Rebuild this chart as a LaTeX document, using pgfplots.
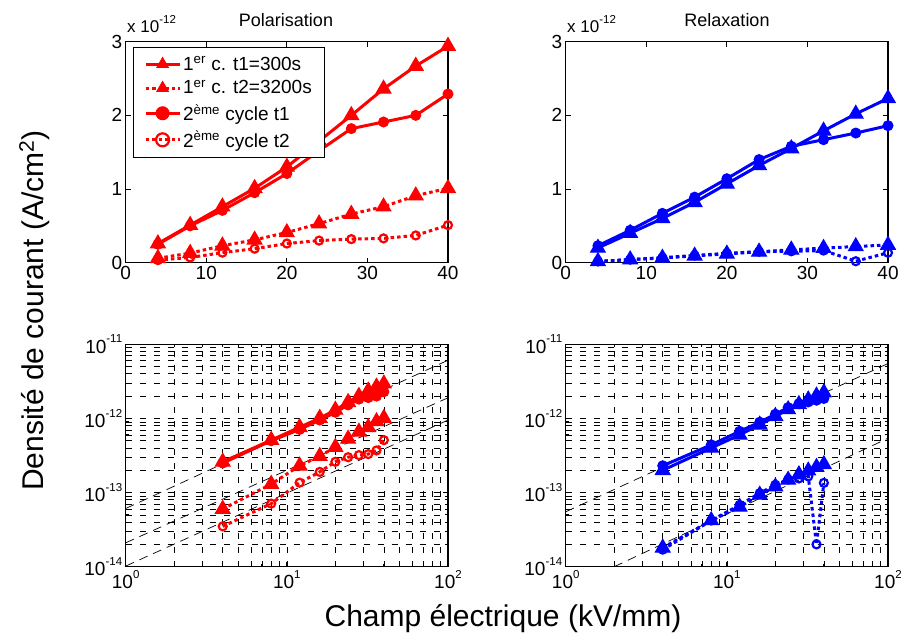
\documentclass[border=0pt]{standalone}
\usepackage{fontspec}
\setmainfont{Liberation Sans}
\usepackage{pgfplots}
\pgfplotsset{compat=1.18}
\usepackage{pgfplotstable}

% values in units of 1e-12 A/cm^2
\pgfplotstableread{
x   pt1  pt2   pc1  pc2   rt1  rt2   rc1  rc2
4   0.26 0.060 0.25 0.035 0.20 0.018 0.23 0.017
8   0.51 0.13  0.50 0.071 0.40 0.042 0.44 0.042
12  0.76 0.23  0.71 0.136 0.60 0.064 0.67 0.068
16  1.01 0.31  0.95 0.19  0.82 0.093 0.89 0.098
20  1.30 0.41  1.21 0.26  1.07 0.12  1.14 0.127
24  1.65 0.53  1.52 0.30  1.32 0.148 1.40 0.150
28  2.00 0.66  1.82 0.32  1.55 0.175 1.58 0.155
32  2.36 0.76  1.91 0.33  1.79 0.197 1.67 0.165
36  2.67 0.91  2.00 0.37  2.02 0.22  1.76 0.020
40  2.94 1.01  2.29 0.51  2.23 0.24  1.86 0.135
}\data

\newcommand\E[1]{\raisebox{0.55em}{\fontsize{11.5}{11.5}\selectfont #1}}

\pgfplotsset{
  mybase/.style={scale only axis, width=322.3pt,
    axis line style={line width=1.2pt, black},
    every tick/.style={black, line width=0.8pt},
    major tick length=5pt, minor tick length=3pt,
    tick label style={font=\fontsize{19}{19}\selectfont, black},
    /pgf/number format/assume math mode=true},
  mylin/.style={mybase, height=221pt, xmin=0, xmax=40, ymin=0, ymax=3,
    xtick={0,10,20,30,40}, ytick={0,1,2,3}, minor tick num=0, clip=false},
  mylog/.style={mybase, height=222.4pt, xmin=1, xmax=100, ymin=0.01, ymax=10,
    xtick={1,10,100}, xticklabels={10\E{0},10\E{1},10\E{2}},
    ytick={0.01,0.1,1,10}, yticklabels={10\E{-14},10\E{-13},10\E{-12},10\E{-11}},
    grid=both,
    major grid style={black, line width=0.6pt, dash pattern=on 6pt off 8pt},
    minor grid style={black, line width=0.6pt, dash pattern=on 6pt off 8pt}},
  sol/.style={line width=3pt, solid},
  dotl/.style={line width=3pt, dash pattern=on 3.5pt off 3pt},
  tri/.style={mark=triangle*, mark size=8.5pt, mark options={solid, line width=1pt}},
  cf/.style={mark=*, mark size=5pt, mark options={solid, line width=1pt}},
  co/.style={mark=o, mark size=4pt, mark options={solid, line width=2.2pt}},
  fitl/.style={black, line width=0.7pt, dash pattern=on 9pt off 6pt},
}

\begin{document}
\begin{tikzpicture}
\path[use as bounding box] (0pt,0pt) rectangle (902pt,632pt);

% ---------- Polarisation (linear) ----------
\begin{axis}[mylin, at={(125.7pt,369.3pt)}, anchor=south west,
  legend style={at={(0.0217,0.975)}, anchor=north west, draw=black, line width=0.8pt,
    font=\fontsize{19}{19}\selectfont, inner xsep=11pt, inner ysep=7pt,
    row sep=5pt},
  legend cell align=left,
  legend image code/.code={\draw[mark repeat=2, mark phase=2, mark size=6.5pt] plot coordinates {(0pt,0pt) (17pt,0pt) (34pt,0pt)};}]
\addplot[red, sol, tri] table[x=x, y=pt1] {\data};
\addlegendentry{1\textsuperscript{er} c. t1=300s}
\addplot[red, dotl, tri] table[x=x, y=pt2] {\data};
\addlegendentry{1\textsuperscript{er} c. t2=3200s}
\addplot[red, sol, cf] table[x=x, y=pc1] {\data};
\addlegendentry{2\textsuperscript{ème} cycle t1}
\addplot[red, dotl, co] table[x=x, y=pc2] {\data};
\addlegendentry{2\textsuperscript{ème} cycle t2}
\end{axis}

% ---------- Relaxation (linear) ----------
\begin{axis}[mylin, at={(565.7pt,369.3pt)}, anchor=south west]
\addplot[blue, sol, tri] table[x=x, y=rt1] {\data};
\addplot[blue, dotl, tri] table[x=x, y=rt2] {\data};
\addplot[blue, sol, cf] table[x=x, y=rc1] {\data};
\addplot[blue, dotl, co] table[x=x, y=rc2] {\data};
\end{axis}

% ---------- Polarisation (log) ----------
\begin{loglogaxis}[mylog, at={(125.7pt,65.3pt)}, anchor=south west]
\addplot[fitl] coordinates {(1,0.061) (100,6.1)};
\addplot[fitl] coordinates {(1,0.021) (100,1.9)};
\addplot[fitl] coordinates {(1,0.0102) (100,0.95)};
\addplot[red, sol, tri] table[x=x, y=pt1] {\data};
\addplot[red, dotl, tri] table[x=x, y=pt2] {\data};
\addplot[red, sol, cf] table[x=x, y=pc1] {\data};
\addplot[red, dotl, co] table[x=x, y=pc2] {\data};
\end{loglogaxis}

% ---------- Relaxation (log) ----------
\begin{loglogaxis}[mylog, at={(565.7pt,65.3pt)}, anchor=south west]
\addplot[fitl] coordinates {(1,0.055) (100,5.5)};
\addplot[fitl] coordinates {(2,0.01) (100,0.54)};
\addplot[blue, sol, tri] table[x=x, y=rt1] {\data};
\addplot[blue, dotl, tri] table[x=x, y=rt2] {\data};
\addplot[blue, sol, cf] table[x=x, y=rc1] {\data};
\addplot[blue, dotl, co] table[x=x, y=rc2] {\data};
\end{loglogaxis}

% ---------- titles and labels ----------
\node[font=\fontsize{18}{18}\selectfont, anchor=base] at (286pt,605pt) {Polarisation};
\node[font=\fontsize{18}{18}\selectfont, anchor=base] at (727pt,605pt) {Relaxation};
\node[font=\fontsize{17}{17}\selectfont, anchor=base west, inner sep=0pt] at (127pt,599pt) {x 10\E{-12}};
\node[font=\fontsize{17}{17}\selectfont, anchor=base west, inner sep=0pt] at (567pt,599pt) {x 10\E{-12}};
\node[font=\fontsize{30}{30}\selectfont, rotate=90, anchor=base, inner sep=0pt] at (43pt,321.5pt) {Densité de courant (A/cm\textsuperscript{2})};
\node[font=\fontsize{30}{30}\selectfont, anchor=base, inner sep=0pt] at (503pt,5.5pt) {Champ électrique (kV/mm)};
\end{tikzpicture}
\end{document}
